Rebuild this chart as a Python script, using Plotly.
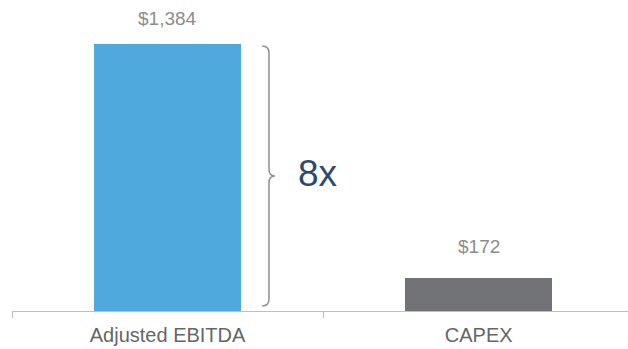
import plotly.graph_objects as go

# Values (USD millions)
categories = ["Adjusted EBITDA", "CAPEX"]
values = [1384, 172]
value_labels = ["$1,384", "$172"]
bar_colors = ["#4fa9dc", "#727376"]
multiple_label = "8x"

W, H = 628, 349
plot_bottom_margin = 38
y_top = 1612

fig = go.Figure()
fig.add_trace(go.Bar(
    x=categories,
    y=values,
    marker=dict(color=bar_colors, line=dict(width=0)),
    width=0.474,
    hoverinfo="skip",
))

# Value labels above each bar
label_shifts = [13, 19]
for cat, val, txt, shift in zip(categories, values, value_labels, label_shifts):
    fig.add_annotation(
        x=cat, y=val, text=txt, showarrow=False,
        yanchor="bottom", yshift=shift,
        font=dict(family="Liberation Sans, Arial, sans-serif", size=19, color="#8c8c8c"),
    )

# Curly brace spanning the EBITDA bar, pointing at the multiple
top = values[0] - 10
bot = 26
mid = (top + bot) / 2
r = 36
x0, x1, xt = 0.304, 0.326, 0.345
path = (
    f"M {x0},{top} Q {x1},{top} {x1},{top - r} "
    f"L {x1},{mid + r} Q {x1},{mid} {xt},{mid} "
    f"Q {x1},{mid} {x1},{mid - r} "
    f"L {x1},{bot + r} Q {x1},{bot} {x0},{bot}"
)
fig.add_shape(type="path", path=path, xref="x", yref="y",
              line=dict(color="#8a8f99", width=1.5))

fig.add_annotation(
    x=0.485, y=mid, text=multiple_label, showarrow=False,
    xanchor="center", yanchor="middle", yshift=2,
    font=dict(family="Liberation Sans, Arial, sans-serif", size=37, color="#2c4a6e"),
)

fig.update_layout(
    width=W, height=H,
    margin=dict(l=12, r=0, t=0, b=plot_bottom_margin),
    paper_bgcolor="white", plot_bgcolor="white",
    showlegend=False,
    bargap=0,
)
fig.update_xaxes(
    type="category",
    range=[-0.5, 1.48],
    showline=True, linecolor="#bfbfbf", linewidth=1,
    ticks="outside", tickson="boundaries", ticklen=6, tickcolor="#bfbfbf",
    ticklabelstandoff=6,
    showgrid=False, zeroline=False,
    tickfont=dict(family="Liberation Sans, Arial, sans-serif", size=20, color="#666666"),
)
fig.update_yaxes(
    range=[0, y_top], visible=False, showgrid=False, zeroline=False,
)

fig.write_html("out.html")
